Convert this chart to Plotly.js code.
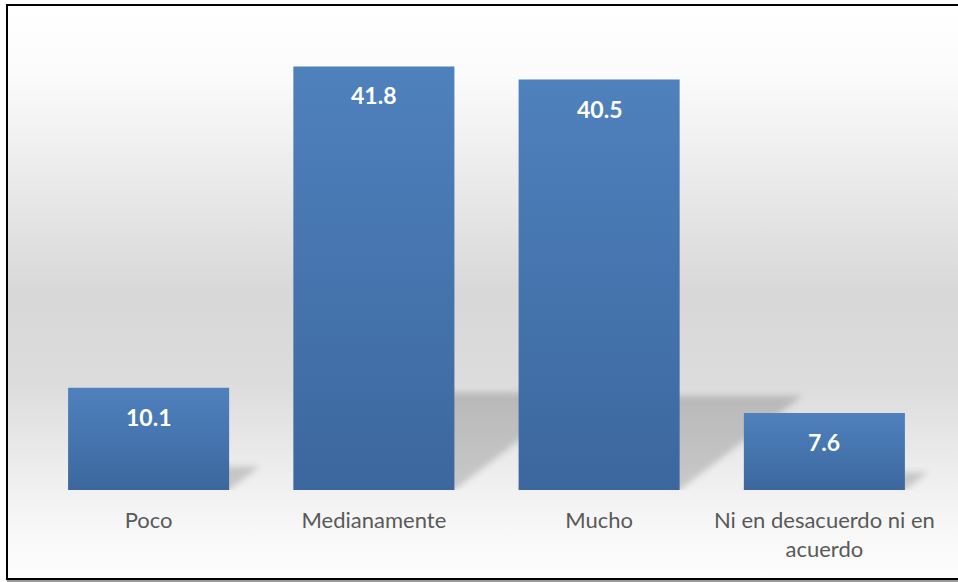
<!DOCTYPE html>
<html><head><meta charset="utf-8">
<script src="https://cdn.plot.ly/plotly-3.0.1.min.js"></script>
<style>
html,body{margin:0;padding:0;background:#fff;}
#wrap{position:relative;width:958px;height:582px;overflow:hidden;background:#fff;}
#frame{position:absolute;left:6px;top:4px;width:990px;height:572px;border:2px solid #000;border-right:none;
 background:linear-gradient(to bottom,#ffffff 0%,#fbfbfb 12%,#e6e6e6 35%,#d8d8d8 50%,#dcdcdc 66%,#eeeeee 82%,#f8f8f8 92%,#fdfdfd 100%);
 box-shadow:1px 2px 1px #9a9a9a;}
#chart{position:absolute;left:0;top:0;width:958px;height:582px;}
</style>
</head><body>
<div id="wrap"><div id="frame"></div><div id="chart"></div></div>
<script>
var categories = ["Poco", "Medianamente", "Mucho", "Ni en desacuerdo ni en<br>acuerdo"];
var values = [10.1, 41.8, 40.5, 7.6];
var valueLabels = ["10.1", "41.8", "40.5", "7.6"];

var idx = categories.map(function(c, i){ return i; });
var bargap = 0.285;
var halfW = (1 - bargap) / 2;

var shapes = values.map(function(v, i){
  var dx = 0.0135 * v, dy = 0.23 * v;
  return {
    type: 'path', layer: 'below', xref: 'x', yref: 'y',
    path: 'M ' + (i - halfW) + ',0 L ' + (i + halfW) + ',0 L ' + (i + halfW + dx) + ',' + dy +
          ' L ' + (i - halfW + dx) + ',' + dy + ' Z',
    fillcolor: 'rgba(0,0,0,0.17)', line: {width: 0}
  };
});

var annotations = values.map(function(v, i){
  return {
    x: i, y: v, xref: 'x', yref: 'y', text: valueLabels[i], showarrow: false,
    yanchor: 'middle', yshift: -29,
    font: {family: 'Lato, "Open Sans", sans-serif', size: 23, color: '#ffffff', weight: 'bold'}
  };
});

var trace = {
  type: 'bar', x: idx, y: values,
  marker: {color: '#4a7ab5', line: {width: 0}},
  hoverinfo: 'none'
};

var layout = {
  width: 958, height: 582,
  margin: {l: 36, r: 21, t: 34, b: 92},
  paper_bgcolor: 'rgba(0,0,0,0)', plot_bgcolor: 'rgba(0,0,0,0)',
  bargap: bargap,
  showlegend: false,
  xaxis: {
    range: [-0.5, 3.5], tickvals: idx, ticktext: categories,
    showgrid: false, zeroline: false, showline: false, ticks: '',
    ticklabelstandoff: 15,
    tickfont: {family: 'Lato, "Open Sans", sans-serif', size: 22, color: '#595959'}
  },
  yaxis: {range: [0, 45], visible: false, showgrid: false, zeroline: false},
  shapes: shapes,
  annotations: annotations
};

Plotly.newPlot('chart', [trace], layout, {displayModeBar: false, staticPlot: true}).then(function(gd){
  var svgNS = 'http://www.w3.org/2000/svg';
  var svg = gd.querySelector('.main-svg');
  var defs = document.createElementNS(svgNS, 'defs');
  defs.innerHTML =
    '<linearGradient id="barGrad" x1="0" y1="0" x2="0" y2="1">' +
      '<stop offset="0" stop-color="#4f81bd"/>' +
      '<stop offset="1" stop-color="#3c679e"/>' +
    '</linearGradient>' +
    '<filter id="blurF" x="-30%" y="-30%" width="160%" height="160%">' +
      '<feGaussianBlur stdDeviation="3"/>' +
    '</filter>';
  svg.insertBefore(defs, svg.firstChild);
  gd.querySelectorAll('.trace.bars .point path').forEach(function(p){
    p.style.fill = 'url(#barGrad)';
    p.style.fillOpacity = 1;
  });
  gd.querySelectorAll('.shapelayer path').forEach(function(p){
    p.setAttribute('filter', 'url(#blurF)');
  });
});
</script>
</body></html>
